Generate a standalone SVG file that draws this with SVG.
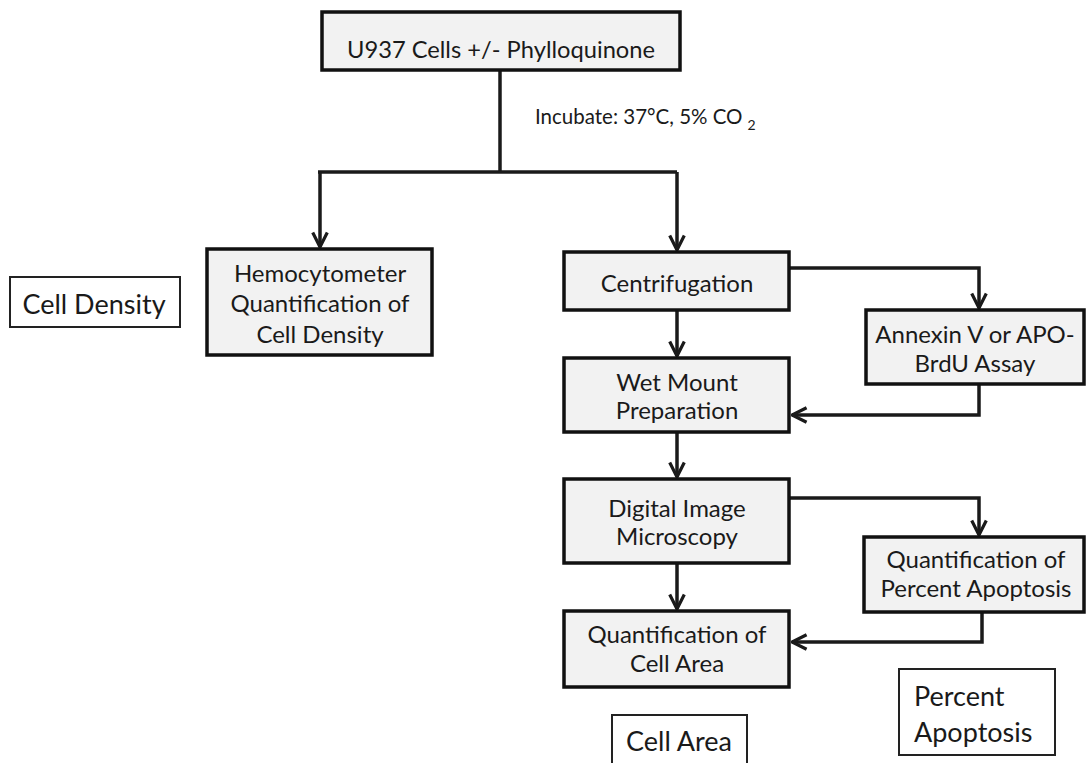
<svg xmlns="http://www.w3.org/2000/svg" width="1086" height="763" viewBox="0 0 1086 763">
<style>
.box{fill:#f2f2f2;stroke:#111;stroke-width:3.5}
.lbl{fill:#fff;stroke:#222;stroke-width:2}
text{font-family:Lato,"Open Sans","Liberation Sans",sans-serif;fill:#1a1a1a;font-size:24px}
.c{text-anchor:middle}
.top{font-size:23.7px}
.big{font-size:27px}
.conn{fill:none;stroke:#1a1a1a;stroke-width:3.5;stroke-linejoin:miter}
</style>
<defs>
<marker id="ah" viewBox="0 0 12 12" refX="11" refY="6" markerWidth="5" markerHeight="5" orient="auto" markerUnits="strokeWidth">
<path d="M1,1 L11,6 L1,11" fill="none" stroke="#1a1a1a" stroke-width="2.2"/>
</marker>
</defs>
<rect width="1086" height="763" fill="#fff"/>
<g id="connectors">
<path class="conn" d="M500,70 V172"/>
<path class="conn" d="M318,172 H677"/>
<path class="conn" d="M320,172 V247" marker-end="url(#ah)"/>
<path class="conn" d="M677,172 V250" marker-end="url(#ah)"/>
<path class="conn" d="M677,310 V356" marker-end="url(#ah)"/>
<path class="conn" d="M789,268 H979 V308" marker-end="url(#ah)"/>
<path class="conn" d="M979,384 V415 H792" marker-end="url(#ah)"/>
<path class="conn" d="M677,432 V477" marker-end="url(#ah)"/>
<path class="conn" d="M789,498 H979 V535" marker-end="url(#ah)"/>
<path class="conn" d="M677,563 V609" marker-end="url(#ah)"/>
<path class="conn" d="M982,612 V642 H792" marker-end="url(#ah)"/>
<text x="535" y="124" style="font-size:20.5px">Incubate: 37°C, 5% CO<tspan dx="5" dy="6" style="font-size:14px">2</tspan></text>
</g>
<g id="n-top">
<rect class="box" x="322" y="12" width="358" height="58"/>
<text class="c top" x="501" y="58">U937 Cells +/- Phylloquinone</text>
</g>
<g id="n-hemo">
<rect class="box" x="207" y="249" width="225" height="106"/>
<text class="c" x="320" y="282">Hemocytometer</text>
<text class="c" x="320" y="312">Quantification of</text>
<text class="c" x="320" y="343">Cell Density</text>
</g>
<g id="n-celldensity">
<rect class="lbl" x="10" y="277" width="170" height="50"/>
<text class="c big" x="94" y="314">Cell Density</text>
</g>
<g id="n-centri">
<rect class="box" x="564" y="252" width="225" height="58"/>
<text class="c" x="677" y="292">Centrifugation</text>
</g>
<g id="n-annexin">
<rect class="box" x="866" y="310" width="218" height="74"/>
<text class="c" x="975" y="343">Annexin V or APO-</text>
<text class="c" x="975" y="372">BrdU Assay</text>
</g>
<g id="n-wet">
<rect class="box" x="564" y="358" width="225" height="74"/>
<text class="c" x="677" y="391">Wet Mount</text>
<text class="c" x="677" y="419">Preparation</text>
</g>
<g id="n-digital">
<rect class="box" x="564" y="479" width="225" height="84"/>
<text class="c" x="677" y="517">Digital Image</text>
<text class="c" x="677" y="545">Microscopy</text>
</g>
<g id="n-qpa">
<rect class="box" x="864" y="537" width="220" height="75"/>
<text class="c" x="976" y="568">Quantification of</text>
<text class="c" x="976" y="597">Percent Apoptosis</text>
</g>
<g id="n-qca">
<rect class="box" x="564" y="611" width="225" height="76"/>
<text class="c" x="677" y="643">Quantification of</text>
<text class="c" x="677" y="672">Cell Area</text>
</g>
<g id="n-cellarea">
<rect class="lbl" x="612" y="715" width="135" height="60"/>
<text class="c big" x="679" y="751">Cell Area</text>
</g>
<g id="n-pa">
<rect class="lbl" x="899" y="669" width="156" height="86"/>
<text class="big" x="914" y="706">Percent</text>
<text class="big" x="914" y="742">Apoptosis</text>
</g>
</svg>
